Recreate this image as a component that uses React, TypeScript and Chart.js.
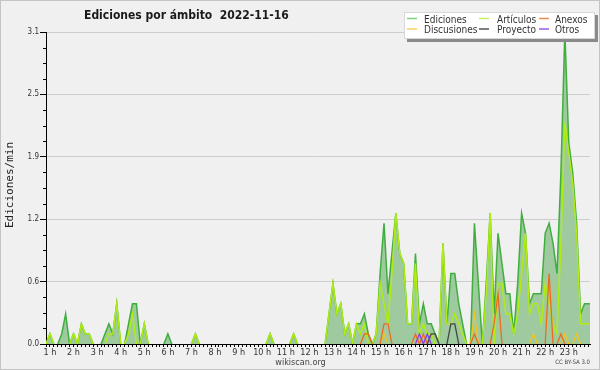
import React, { useEffect, useRef } from 'react';
import { Chart, registerables } from 'chart.js';

Chart.register(...registerables);

// 10-minute slots, slot 0 = 0:50 ... slot 138 = 23:50 (slot 139 runs past the edge)
const hourLabels = ['1 h','2 h','3 h','4 h','5 h','6 h','7 h','8 h','9 h','10 h','11 h','12 h',
  '13 h','14 h','15 h','16 h','17 h','18 h','19 h','20 h','21 h','22 h','23 h'];

const yTicks = [0, 0.62, 1.24, 1.86, 2.48, 3.1];

const ediciones = [
  0, 0.1, 0, 0, 0.1, 0.3, 0, 0.1, 0, 0.2,
  0.1, 0.1, 0, 0, 0, 0.1, 0.2, 0.1, 0.4, 0,
  0, 0.2, 0.4, 0.4, 0, 0.2, 0, 0, 0, 0,
  0, 0.1, 0, 0, 0, 0, 0, 0, 0.1, 0,
  0, 0, 0, 0, 0, 0, 0, 0, 0, 0,
  0, 0, 0, 0, 0, 0, 0, 0.1, 0, 0,
  0, 0, 0, 0.1, 0, 0, 0, 0, 0, 0,
  0, 0, 0.3, 0.6, 0.3, 0.4, 0.1, 0.2, 0, 0.2,
  0.2, 0.3, 0.1, 0, 0.1, 0.7, 1.2, 0.5, 0.9, 1.3,
  0.9, 0.8, 0.2, 0.2, 0.9, 0.2, 0.4, 0.2, 0.2, 0.1,
  0, 1.0, 0.2, 0.7, 0.7, 0.4, 0.2, 0, 0, 1.2,
  0.6, 0, 0.6, 1.3, 0.3, 1.1, 0.8, 0.5, 0.5, 0.1,
  0.6, 1.3, 1.1, 0.4, 0.5, 0.5, 0.5, 1.1, 1.2, 1.0,
  0.7, 1.7, 3.1, 2.0, 1.7, 1.2, 0.3, 0.4, 0.4, 0.4,
];

const articulos = [
  0, 0.1, 0, 0, 0, 0, 0, 0.1, 0, 0.2,
  0.1, 0.1, 0, 0, 0, 0, 0.1, 0.1, 0.4, 0,
  0, 0.1, 0.3, 0, 0, 0.2, 0, 0, 0, 0,
  0, 0, 0, 0, 0, 0, 0, 0, 0.1, 0,
  0, 0, 0, 0, 0, 0, 0, 0, 0, 0,
  0, 0, 0, 0, 0, 0, 0, 0.1, 0, 0,
  0, 0, 0, 0.1, 0, 0, 0, 0, 0, 0,
  0, 0, 0.3, 0.6, 0.3, 0.4, 0.1, 0.2, 0, 0.2,
  0.1, 0.2, 0, 0, 0.1, 0.6, 0.4, 0.2, 0.7, 1.3,
  0.9, 0.8, 0.2, 0.2, 0.8, 0.1, 0.2, 0.1, 0.1, 0,
  0, 1.0, 0.2, 0.2, 0.3, 0.2, 0.1, 0, 0, 0,
  0, 0, 0.5, 1.3, 0, 0.6, 0.6, 0.3, 0.3, 0.1,
  0.3, 0.7, 1.1, 0.3, 0.4, 0.4, 0.2, 0.6, 0.4, 0.2,
  0.1, 1.0, 2.2, 1.9, 1.6, 1.1, 0.2, 0.2, 0.2, 0.2,
];

const anexos = [
  0, 0, 0, 0, 0, 0, 0, 0, 0, 0,
  0, 0, 0, 0, 0, 0, 0, 0, 0, 0,
  0, 0, 0, 0, 0, 0, 0, 0, 0, 0,
  0, 0, 0, 0, 0, 0, 0, 0, 0, 0,
  0, 0, 0, 0, 0, 0, 0, 0, 0, 0,
  0, 0, 0, 0, 0, 0, 0, 0, 0, 0,
  0, 0, 0, 0, 0, 0, 0, 0, 0, 0,
  0, 0, 0, 0, 0, 0, 0, 0, 0, 0,
  0, 0.1, 0.1, 0, 0, 0, 0.2, 0.2, 0, 0,
  0, 0, 0, 0, 0.1, 0, 0.1, 0, 0, 0,
  0, 0, 0, 0, 0, 0, 0, 0, 0, 0.1,
  0, 0, 0, 0, 0.2, 0.5, 0, 0, 0, 0,
  0, 0, 0, 0, 0, 0, 0, 0, 0.7, 0,
  0, 0.1, 0, 0, 0, 0, 0, 0, 0, 0,
];

const discusiones = [
  0, 0, 0, 0, 0, 0, 0, 0, 0, 0,
  0, 0, 0, 0, 0, 0, 0, 0, 0, 0,
  0, 0, 0, 0, 0, 0, 0, 0, 0, 0,
  0, 0, 0, 0, 0, 0, 0, 0, 0, 0,
  0, 0, 0, 0, 0, 0, 0, 0, 0, 0,
  0, 0, 0, 0, 0, 0, 0, 0, 0, 0,
  0, 0, 0, 0, 0, 0, 0, 0, 0, 0,
  0, 0, 0, 0, 0, 0, 0, 0, 0, 0,
  0, 0, 0, 0, 0, 0, 0.1, 0, 0, 0,
  0, 0, 0, 0, 0, 0, 0, 0, 0, 0,
  0, 0, 0, 0, 0, 0, 0, 0, 0, 0.3,
  0, 0, 0, 0, 0, 0, 0, 0, 0, 0,
  0, 0, 0, 0, 0.1, 0, 0, 0, 0, 0,
  0, 0, 0.1, 0, 0, 0.1, 0, 0, 0, 0,
];

const proyecto = [
  0, 0, 0, 0, 0, 0, 0, 0, 0, 0,
  0, 0, 0, 0, 0, 0, 0, 0, 0, 0,
  0, 0, 0, 0, 0, 0, 0, 0, 0, 0,
  0, 0, 0, 0, 0, 0, 0, 0, 0, 0,
  0, 0, 0, 0, 0, 0, 0, 0, 0, 0,
  0, 0, 0, 0, 0, 0, 0, 0, 0, 0,
  0, 0, 0, 0, 0, 0, 0, 0, 0, 0,
  0, 0, 0, 0, 0, 0, 0, 0, 0, 0,
  0, 0, 0, 0, 0, 0, 0, 0, 0, 0,
  0, 0, 0, 0, 0, 0, 0, 0, 0.1, 0.1,
  0, 0, 0, 0.2, 0.2, 0, 0, 0, 0, 0,
  0, 0, 0, 0, 0, 0, 0, 0, 0, 0,
  0, 0, 0, 0, 0, 0, 0, 0, 0, 0,
  0, 0, 0, 0, 0, 0, 0, 0, 0, 0,
];

const otros = [
  0, 0, 0, 0, 0, 0, 0, 0, 0, 0,
  0, 0, 0, 0, 0, 0, 0, 0, 0, 0,
  0, 0, 0, 0, 0, 0, 0, 0, 0, 0,
  0, 0, 0, 0, 0, 0, 0, 0, 0, 0,
  0, 0, 0, 0, 0, 0, 0, 0, 0, 0,
  0, 0, 0, 0, 0, 0, 0, 0, 0, 0,
  0, 0, 0, 0, 0, 0, 0, 0, 0, 0,
  0, 0, 0, 0, 0, 0, 0, 0, 0, 0,
  0, 0, 0, 0, 0, 0, 0, 0, 0, 0,
  0, 0, 0, 0, 0, 0.1, 0, 0.1, 0, 0,
  0, 0, 0, 0, 0, 0, 0, 0, 0, 0,
  0, 0, 0, 0, 0, 0, 0, 0, 0, 0,
  0, 0, 0, 0, 0, 0, 0, 0, 0, 0,
  0, 0, 0, 0, 0, 0, 0, 0, 0, 0,
];

const FONT = '"DejaVu Sans Condensed", "DejaVu Sans", sans-serif';
const COLORS = {
  ediciones: '#3fae3f',
  edicionesFill: '#9fca9f',
  articulos: '#b0ec12',
  anexos: '#f06a1e',
  discusiones: '#f2c41c',
  proyecto: '#454545',
  otros: '#8a3cf0',
};

const legendItems = [
  { label: 'Ediciones', color: '#7fd27f', col: 0, row: 0 },
  { label: 'Artículos', color: '#c8f060', col: 1, row: 0 },
  { label: 'Anexos', color: '#f08a4e', col: 2, row: 0 },
  { label: 'Discusiones', color: '#f5d25a', col: 0, row: 1 },
  { label: 'Proyecto', color: '#555555', col: 1, row: 1 },
  { label: 'Otros', color: '#9a5cf0', col: 2, row: 1 },
];

const toXY = (arr: number[]) => arr.map((v, i) => ({ x: i, y: v }));
const hideZero = (ctx: any) =>
  ctx.p0.parsed.y === 0 && ctx.p1.parsed.y === 0 ? 'rgba(0,0,0,0)' : undefined;

const decorPlugin = {
  id: 'decor',
  beforeDraw(chart: any) {
    const ctx = chart.ctx;
    ctx.save();
    ctx.fillStyle = '#f0f0f0';
    ctx.fillRect(0, 0, chart.width, chart.height);
    ctx.strokeStyle = '#c4c4c4';
    ctx.lineWidth = 1;
    ctx.strokeRect(0.5, 0.5, chart.width - 1, chart.height - 1);
    ctx.restore();
  },
  afterDraw(chart: any) {
    const ctx = chart.ctx;
    const y = chart.scales.y;
    const left = chart.chartArea.left;
    ctx.save();
    // minor y ticks
    ctx.strokeStyle = '#000';
    ctx.lineWidth = 1;
    for (let k = 0; k < yTicks.length - 1; k++) {
      const a = yTicks[k];
      const b = yTicks[k + 1];
      for (let m = 1; m < 4; m++) {
        const py = Math.round(y.getPixelForValue(a + ((b - a) * m) / 4)) + 0.5;
        ctx.beginPath();
        ctx.moveTo(left - 3, py);
        ctx.lineTo(left, py);
        ctx.stroke();
      }
    }
    // title
    ctx.fillStyle = '#1a1a1a';
    ctx.textAlign = 'left';
    ctx.textBaseline = 'alphabetic';
    ctx.font = `bold 12px ${FONT}`;
    ctx.fillText('Ediciones por ámbito  2022-11-16', 84, 18.5);
    // y axis title
    ctx.save();
    ctx.translate(13, 185);
    ctx.rotate(-Math.PI / 2);
    ctx.textAlign = 'center';
    ctx.fillStyle = '#222';
    ctx.font = '11px "DejaVu Sans Mono", monospace';
    ctx.fillText('Ediciones/min', 0, 0);
    ctx.restore();
    // legend box
    ctx.fillStyle = '#8a8a8a';
    ctx.fillRect(407, 15, 191, 27);
    ctx.fillStyle = '#ffffff';
    ctx.fillRect(404, 12, 191, 27);
    ctx.strokeStyle = '#d8d8d8';
    ctx.strokeRect(404.5, 12.5, 190, 26);
    const swX = [407, 479, 539];
    const txX = [424, 497, 555];
    const rowY = [18.5, 29];
    ctx.font = `10px ${FONT}`;
    legendItems.forEach((it) => {
      ctx.strokeStyle = it.color;
      ctx.lineWidth = 1.5;
      ctx.beginPath();
      ctx.moveTo(swX[it.col], rowY[it.row]);
      ctx.lineTo(swX[it.col] + 10, rowY[it.row]);
      ctx.stroke();
      ctx.fillStyle = '#333';
      ctx.fillText(it.label, txX[it.col], rowY[it.row] + 4);
    });
    // footer
    ctx.fillStyle = '#444';
    ctx.textAlign = 'center';
    ctx.font = `9px ${FONT}`;
    ctx.fillText('wikiscan.org', 300.5, 364.5);
    ctx.textAlign = 'right';
    ctx.font = `6px ${FONT}`;
    ctx.fillText('CC BY-SA 3.0', 590, 364);
    ctx.restore();
  },
};

export default function App() {
  const ref = useRef<HTMLCanvasElement | null>(null);
  useEffect(() => {
    if (!ref.current) return;
    const lineBase = {
      pointRadius: 0,
      pointHoverRadius: 0,
      tension: 0,
      fill: false,
      segment: { borderColor: hideZero },
    };
    const chart = new Chart(ref.current, {
      type: 'line',
      data: {
        datasets: [
          { ...lineBase, label: 'Otros', data: toXY(otros), borderColor: COLORS.otros, borderWidth: 1.3, order: 1 },
          { ...lineBase, label: 'Proyecto', data: toXY(proyecto), borderColor: COLORS.proyecto, borderWidth: 1.3, order: 2 },
          { ...lineBase, label: 'Anexos', data: toXY(anexos), borderColor: COLORS.anexos, borderWidth: 1.3, order: 3 },
          { ...lineBase, label: 'Discusiones', data: toXY(discusiones), borderColor: COLORS.discusiones, borderWidth: 1.3, order: 4 },
          { ...lineBase, label: 'Artículos', data: toXY(articulos), borderColor: COLORS.articulos, borderWidth: 1.5, order: 5 },
          {
            ...lineBase,
            label: 'Ediciones',
            data: toXY(ediciones),
            borderColor: COLORS.ediciones,
            backgroundColor: COLORS.edicionesFill,
            borderWidth: 1.5,
            fill: 'origin',
            order: 6,
          },
        ],
      },
      options: {
        responsive: false,
        animation: false,
        events: [],
        layout: { padding: { left: 0, right: 10, top: 32, bottom: 0 } },
        plugins: {
          legend: { display: false },
          title: { display: false },
          tooltip: { enabled: false },
        },
        scales: {
          x: {
            type: 'linear',
            min: 0,
            max: 138.4,
            z: 1,
            afterBuildTicks: (axis: any) => {
              axis.ticks = ediciones.slice(0, 139).map((_, i) => ({ value: i }));
            },
            afterFit: (s: any) => { s.height = 26; },
            ticks: {
              autoSkip: false,
              maxRotation: 0,
              minRotation: 0,
              padding: 0,
              color: '#333',
              font: { family: FONT, size: 9 },
              callback: (v: any) => {
                const i = Math.round(Number(v));
                if ((i + 5) % 6 === 0) return hourLabels[(i + 5) / 6 - 1] || '';
                return '';
              },
            },
            grid: { drawOnChartArea: false, tickLength: 3, tickColor: '#000', color: '#000' },
            border: { color: '#000', width: 1 },
          },
          y: {
            min: 0,
            max: 3.1,
            afterBuildTicks: (axis: any) => {
              axis.ticks = yTicks.map((v) => ({ value: v }));
            },
            afterFit: (s: any) => { s.width = 46; },
            ticks: {
              padding: 1,
              color: '#333',
              font: { family: FONT, size: 8 },
              callback: (v: any) => Number(v).toFixed(1),
            },
            grid: { color: '#cdcdcd', tickColor: '#000', tickLength: 6, lineWidth: 1 },
            border: { color: '#000', width: 1 },
          },
        },
      },
      plugins: [decorPlugin],
    } as any);
    return () => chart.destroy();
  }, []);
  return (
    <div style={{ position: 'absolute', left: 0, top: 0, width: 600, height: 370 }}>
      <canvas ref={ref} width={600} height={370} style={{ display: 'block' }} />
    </div>
  );
}
